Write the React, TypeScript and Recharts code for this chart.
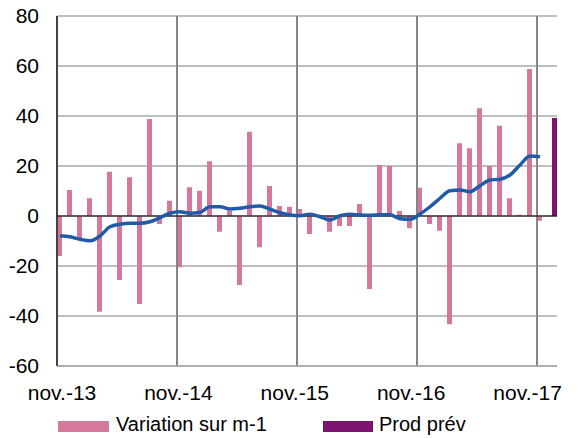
import React from 'react';
import {
  ComposedChart,
  Bar,
  Line,
  XAxis,
  YAxis,
  CartesianGrid,
  ReferenceLine,
} from 'recharts';

// month index 0 = nov.-13, 48 = nov.-17
const variation = [
  -16, 10.4, -8.9, 7.1, -38.3, 17.7, -25.6, 15.5, -35.2, 38.8, -3.2, 6.1,
  -20.5, 11.5, 10.1, 21.9, -6.3, 2.1, -27.6, 33.7, -12.5, 12, 4, 3.7,
  2.8, -7.2, 0.5, -6.3, -4, -4, 4.8, -29.2, 20.4, 20, 2, -4.9,
  11.3, -3.2, -5.9, -43.3, 29.1, 27.1, 43.1, 20, 36.1, 7.1, 0.5, 58.8,
  -1.9,
];

const moyenne = [
  -7.9, -8.3, -9.3, -9.9, -8, -4.3, -3.3, -2.9, -2.9, -2.3, -0.7, 1.1,
  1.7, 1.1, 1.5, 3.7, 3.7, 2.8, 3.1, 3.7, 4, 2.7, 1.3, 0.4,
  0.1, 0.7, -0.3, -1.6, 0.1, 0.7, 0.4, 0.3, 0.5, 0.5, -1.1, -1.3,
  0.8, 3.7, 7.1, 10.1, 10.4, 9.7, 12.1, 14.4, 14.7, 16.4, 20.4, 24,
  23.7,
];

const prodPrev = 39.2;
const prodPrevMonth = 49.5;

const tickLabels = ['nov.-13', 'nov.-14', 'nov.-15', 'nov.-16', 'nov.-17'];
const tickMonths = [0, 12, 24, 36, 48];
const yearLines = [-0.3, 11.7, 23.7, 35.7, 47.7];
const yTicks = [-60, -40, -20, 0, 20, 40, 60, 80];

const PINK = '#D5789B';
const PURPLE = '#7C1370';
const BLUE = '#1F5BA8';
const FONT = '"Liberation Sans", Arial, sans-serif';

const data = [
  ...variation.map((v, i) => ({ month: i, variation: v, moyenne: moyenne[i] })),
  { month: prodPrevMonth, prev: prodPrev },
];

const XTick = (props: any) => {
  const { x, y, index } = props;
  const dx = 2 - index * 3.6;
  return (
    <text x={x + dx} y={y + 15} textAnchor="middle" fontSize={21} fill="#000" fontFamily={FONT}>
      {tickLabels[index]}
    </text>
  );
};

export default function App() {
  return (
    <div
      style={{
        position: 'fixed',
        top: 0,
        left: 0,
        width: 578,
        height: 438,
        background: '#fff',
        fontFamily: FONT,
      }}
    >
      <ComposedChart
        width={578}
        height={438}
        data={data}
        margin={{ top: 16, right: 21, left: 0, bottom: 38 }}
      >
        <CartesianGrid vertical={false} stroke="#A8A8A8" strokeWidth={1.5} />
        {yearLines.map((x) => (
          <ReferenceLine key={x} x={x} stroke="#858585" strokeWidth={2} />
        ))}
        <XAxis
          dataKey="month"
          type="number"
          domain={[-0.3, 49.7]}
          ticks={tickMonths}
          allowDataOverflow
          tickLine={false}
          tickSize={0}
          tickMargin={19}
          axisLine={{ stroke: '#A8A8A8', strokeWidth: 1.5 }}
          tick={<XTick />}
          height={34}
          interval={0}
        />
        <YAxis
          domain={[-60, 80]}
          ticks={yTicks}
          width={57}
          tickLine={false}
          tickSize={0}
          tickMargin={18}
          axisLine={{ stroke: '#000' }}
          tick={{ fontSize: 21, fill: '#000', fontFamily: FONT }}
          interval={0}
        />
        <Bar dataKey="variation" stackId="a" fill={PINK} barSize={5} isAnimationActive={false} />
        <Bar dataKey="prev" stackId="a" fill={PURPLE} barSize={6} isAnimationActive={false} />
        <ReferenceLine y={0} stroke="#000" strokeWidth={1} />
        <Line
          dataKey="moyenne"
          type="monotone"
          stroke={BLUE}
          strokeWidth={3.5}
          dot={false}
          isAnimationActive={false}
        />
      </ComposedChart>
      <svg
        width={578}
        height={40}
        style={{ position: 'absolute', left: 0, top: 398 }}
      >
        <rect x={58} y={23} width={51} height={11} fill={PINK} />
        <text x={116} y={33} fontSize={20} fill="#000" fontFamily={FONT}>
          Variation sur m-1
        </text>
        <rect x={323} y={23} width={50} height={11} fill={PURPLE} />
        <text x={379} y={33} fontSize={20} fill="#000" fontFamily={FONT}>
          Prod prév
        </text>
      </svg>
    </div>
  );
}
